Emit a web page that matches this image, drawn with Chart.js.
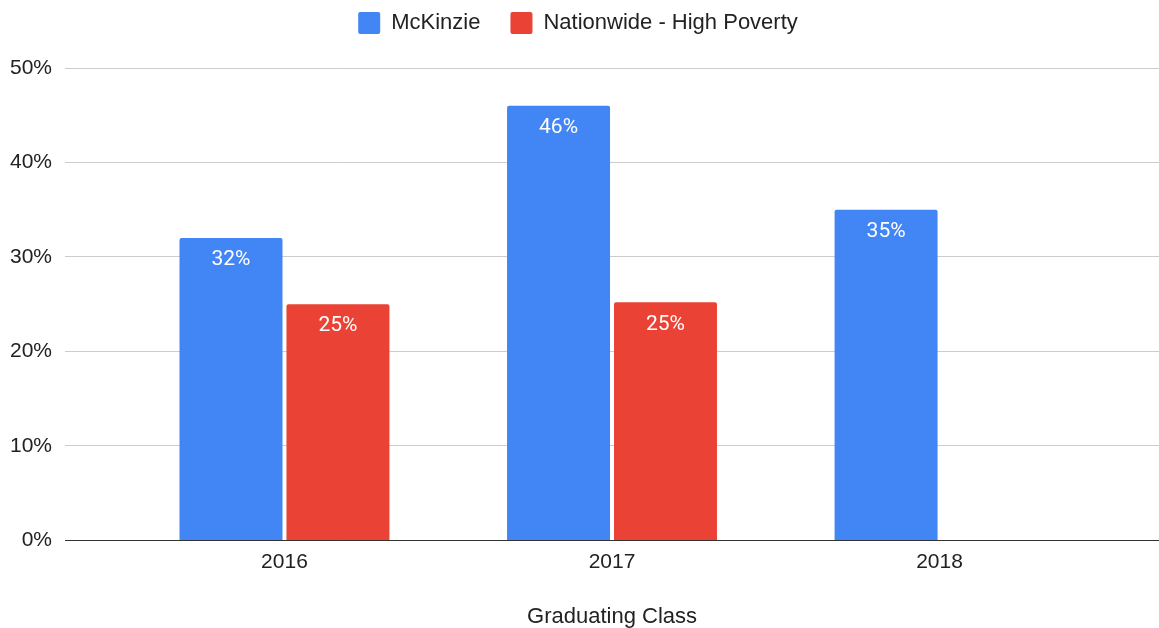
<!DOCTYPE html>
<html>
<head>
<meta charset="utf-8">
<script src="https://cdn.jsdelivr.net/npm/chart.js@4"></script>
<style>
  body { margin: 0; background: #fff; }
</style>
</head>
<body>
<canvas id="myChart" width="1159" height="628"></canvas>
<script>
const years = ['2016', '2017', '2018'];
const mckinzie = [32, 46, 35];
const nationwide = [25, 25.2, null];
const yTicks = [0, 10, 20, 30, 40, 50];

// white value labels just inside the top of each bar
const barLabels = {
  id: 'barLabels',
  afterDatasetsDraw(chart) {
    const ctx = chart.ctx;
    ctx.save();
    ctx.fillStyle = '#fff';
    ctx.font = '21px Roboto';
    ctx.textAlign = 'center';
    ctx.textBaseline = 'middle';
    chart.data.datasets.forEach((ds, i) => {
      chart.getDatasetMeta(i).data.forEach((bar, j) => {
        const v = ds.data[j].y;
        if (v == null) return;
        ctx.fillText(Math.round(v) + '%', bar.x, bar.y + 22);
      });
    });
    ctx.restore();
  }
};

// extra room under the legend
const legendGap = {
  id: 'legendGap',
  beforeUpdate(chart) {
    const legend = chart.legend;
    if (!legend || legend._gapPatched) return;
    const fit = legend.fit;
    legend.fit = function () {
      fit.call(this);
      this.height += 24;
    };
    legend._gapPatched = true;
  }
};

const ctx = document.getElementById('myChart').getContext('2d');
new Chart(ctx, {
  type: 'bar',
  data: {
    datasets: [
      { label: 'McKinzie', data: years.map((y, i) => ({ x: i, y: mckinzie[i] })), backgroundColor: '#4285F4', borderRadius: { topLeft: 2, topRight: 2 }, borderSkipped: 'bottom' },
      { label: 'Nationwide - High Poverty', data: years.map((y, i) => ({ x: i, y: nationwide[i] })), backgroundColor: '#EA4335', borderRadius: { topLeft: 2, topRight: 2 }, borderSkipped: 'bottom' }
    ]
  },
  plugins: [barLabels, legendGap],
  options: {
    responsive: false,
    animation: false,
    categoryPercentage: 0.653,
    barPercentage: 0.963,
    layout: { padding: { top: -18, right: 0, left: -3, bottom: -2 } },
    plugins: {
      tooltip: { enabled: false },
      legend: {
        position: 'top',
        labels: {
          font: { family: 'Liberation Sans', size: 22 },
          color: '#222',
          boxWidth: 22,
          boxHeight: 22,
          padding: 30,
          useBorderRadius: true,
          borderRadius: 2
        }
      }
    },
    scales: {
      x: {
        type: 'linear',
        offset: false,
        min: -0.67,
        max: 2.67,
        afterBuildTicks: axis => { axis.ticks = years.map((y, i) => ({ value: i })); },
        grid: { display: false, drawTicks: false },
        border: { display: true, color: '#333', width: 1 },
        ticks: {
          callback: v => years[v],
          font: { family: 'Liberation Sans', size: 21 },
          color: '#222',
          padding: 9
        },
        title: {
          display: true,
          text: 'Graduating Class',
          font: { family: 'Liberation Sans', size: 22 },
          color: '#222',
          padding: { top: 20, bottom: 0 }
        }
      },
      y: {
        min: 0,
        max: 50,
        afterBuildTicks: axis => { axis.ticks = yTicks.map(v => ({ value: v })); },
        grid: { color: ctx => ctx.tick.value === 0 ? '#333' : '#ccc', drawTicks: false },
        border: { display: false },
        ticks: {
          callback: v => v + '%',
          font: { family: 'Liberation Sans', size: 21 },
          color: '#222',
          padding: 13
        }
      }
    }
  }
});
</script>
</body>
</html>
